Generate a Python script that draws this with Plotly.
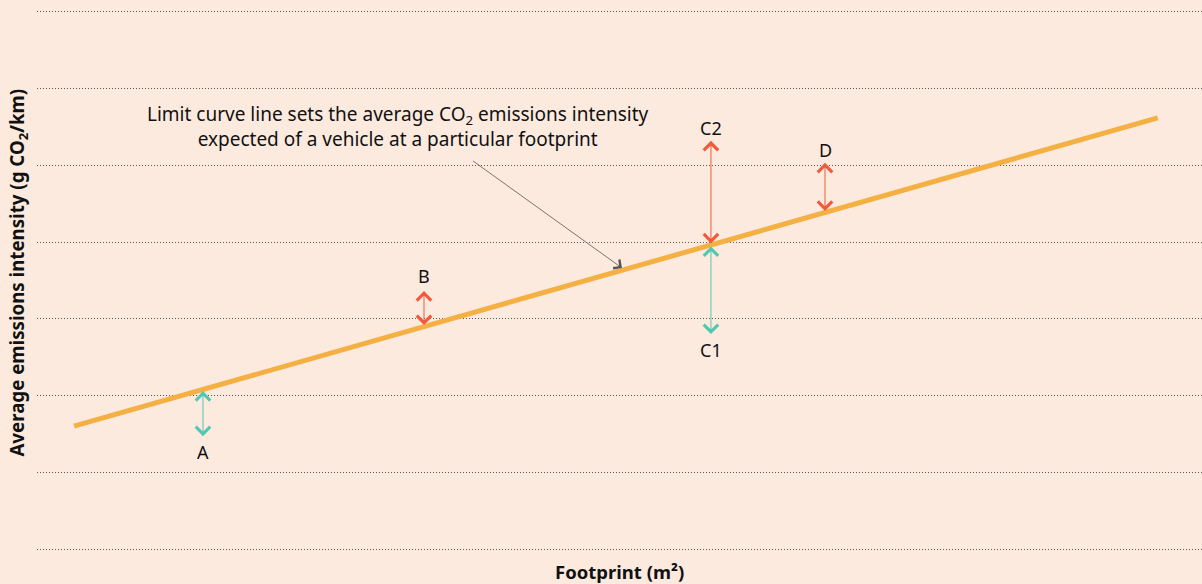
import plotly.graph_objects as go

# limit curve end points (footprint units, emissions units)
curve_x = [0.318, 9.62]
curve_y = [1.603, 5.618]

# vehicles: name, footprint, emission value (arrow tip away from curve), label y
vehicle_names = ["A", "B", "C1", "C2", "D"]
vehicle_x = [1.425, 3.322, 5.785, 5.785, 6.764]
vehicle_y = [1.473, 3.363, 2.803, 5.318, 5.032]
label_y = [1.264, 3.559, 2.594, 5.488, 5.201]
vehicle_kind = ["below", "above", "below", "above", "above"]

grid_vals = [0, 1, 2, 3, 4, 5, 6, 7]

BG = "#FDEADF"
ORANGE = "#F4B042"
RED = "#EF5A3C"
GREEN = "#52C8B0"
FONT = "Noto Sans"

slope = (curve_y[1] - curve_y[0]) / (curve_x[1] - curve_x[0])


def on_curve(x):
    return curve_y[0] + slope * (x - curve_x[0])


fig = go.Figure()
fig.add_trace(go.Scatter(
    x=curve_x, y=curve_y, mode="lines",
    line=dict(color=ORANGE, width=5), hoverinfo="skip", showlegend=False,
))

annotations = []
for name, x, y, ly, kind in zip(vehicle_names, vehicle_x, vehicle_y, label_y, vehicle_kind):
    col = RED if kind == "above" else GREEN
    annotations.append(dict(
        x=x, y=y, ax=x, ay=on_curve(x), xref="x", yref="y", axref="x", ayref="y",
        showarrow=True, arrowhead=4, startarrowhead=4, arrowside="end+start",
        arrowsize=2.8, startarrowsize=2.8, arrowwidth=1, arrowcolor=col,
        standoff=0, startstandoff=0, text="",
    ))
    annotations.append(dict(
        x=x, y=ly, xref="x", yref="y", text=name, showarrow=False,
        font=dict(family=FONT, size=18, color="#111"),
    ))

# pointer annotation
annotations.append(dict(
    x=5.021, y=3.663, ax=3.73, ay=5.07, xref="x", yref="y", axref="x", ayref="y",
    showarrow=True, arrowhead=4, arrowsize=2.6, arrowwidth=0.8, arrowcolor="#555",
    standoff=0, text="",
))
annotations.append(dict(
    x=3.10, y=5.50, xref="x", yref="y", yanchor="middle",
    text="Limit curve line sets the average CO<sub>2</sub> emissions intensity<br>"
         "expected of a vehicle at a particular footprint",
    showarrow=False, align="center",
    font=dict(family=FONT, size=19, color="#111"),
))
# axis titles
annotations.append(dict(
    x=-0.016, y=0.515, xref="paper", yref="paper", textangle=-90,
    text="<b>Average emissions intensity (g CO<sub>2</sub>/km)</b>",
    showarrow=False, xanchor="center", yanchor="middle",
    font=dict(family=FONT, size=18.7, color="#111"),
))
annotations.append(dict(
    x=0.5, y=-0.026, xref="paper", yref="paper", yanchor="middle",
    text="<b>Footprint (m²)</b>", showarrow=False,
    font=dict(family=FONT, size=18.5, color="#111"),
))

fig.update_layout(
    width=1202, height=584,
    margin=dict(l=37, r=0, t=4, b=27),
    paper_bgcolor=BG, plot_bgcolor=BG,
    annotations=annotations,
    xaxis=dict(range=[0, 10], showgrid=False, zeroline=False, showticklabels=False,
               ticks=""),
    yaxis=dict(range=[-0.1, 7.1], tickvals=grid_vals, showgrid=True, gridcolor="#555",
               griddash="1px,2px", gridwidth=1, zeroline=False, showticklabels=False,
               ticks=""),
    showlegend=False,
)

fig.write_html("out.html", config={"displayModeBar": False},
               post_script="document.body.style.margin='0';")
